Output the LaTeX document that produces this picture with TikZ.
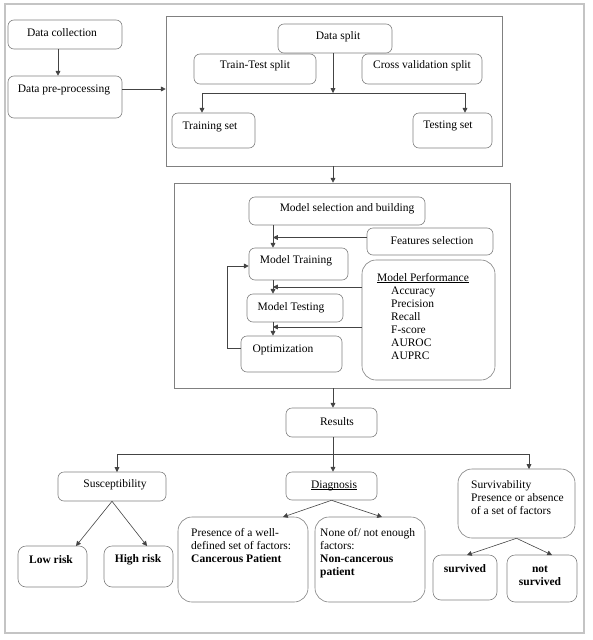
\documentclass[tikz,border=0pt]{standalone}
\usepackage{fontspec}
\setmainfont{Liberation Serif}
\usetikzlibrary{arrows.meta,fit}
\definecolor{boxgray}{HTML}{808080}
\definecolor{arrgray}{HTML}{444444}
\definecolor{framegray}{HTML}{C4C4C4}
\newcommand\myul[1]{\setbox0\hbox{#1}\rlap{\rule[-1.4pt]{\wd0}{0.5pt}}\box0}
\begin{document}
\begin{tikzpicture}[x=1pt,y=-1pt,
 box/.style={draw=boxgray, line width=0.6pt, rounded corners=6pt, inner sep=0pt},
 bigbox/.style={box, rounded corners=14pt},
 panel/.style={draw=boxgray, line width=0.6pt, inner sep=0pt},
 txt/.style={inner sep=0pt, font=\fontsize{11.5}{13}\selectfont},
 btxt/.style={inner sep=0pt, font=\fontsize{11.5}{13}\selectfont\bfseries},
 arr/.style={draw=arrgray, line width=0.6pt, -{Triangle[length=4.8pt,width=4.8pt]}},
]
\useasboundingbox (0,0) rectangle (593,640);
\node[draw=framegray, line width=1.6pt, inner sep=0pt, fit={(5,4)(584,633)}] (frame) {};

% boxes
\node[box, fit={(8,20)(122,49)}] (dc) {};
\node[box, fit={(8,76)(122,118)}] (dp) {};
\node[panel, fit={(166,16)(502,166)}] (b1) {};
\node[box, fit={(194,54)(316,84)}] (tt) {};
\node[box, fit={(362,54)(482,84)}] (cv) {};
\node[box, fit={(278,24)(392,53)}] (ds) {};
\node[box, fit={(172,113)(255,148)}] (trs) {};
\node[box, fit={(413,113)(492,148)}] (tes) {};
\node[panel, fit={(174,183)(510,388)}] (b2) {};
\node[box, fit={(249,197)(425,225)}] (msb) {};
\node[box, fit={(367,228)(493,255)}] (fs) {};
\node[box, fit={(249,248)(348,280)}] (mt) {};
\node[box, fit={(247,294)(343,322)}] (mte) {};
\node[box, fit={(241,336)(342,372)}] (opt) {};
\node[bigbox, fit={(362,260)(495,380)}] (mp) {};
\node[box, fit={(286,408)(377,437)}] (res) {};
\node[box, fit={(58,472)(166,501)}] (susc) {};
\node[box, fit={(286,472)(377,500)}] (diag) {};
\node[bigbox, fit={(458,469)(575,538)}] (surv) {};
\node[box, rounded corners=8pt, fit={(18,546)(87,587)}] (low) {};
\node[box, rounded corners=8pt, fit={(104,546)(173,587)}] (high) {};
\node[bigbox, fit={(178,517)(308,602)}] (pres) {};
\node[bigbox, fit={(315,517)(425,602)}] (none) {};
\node[box, rounded corners=8pt, fit={(433,555)(497,600)}] (sd) {};
\node[box, rounded corners=8pt, fit={(507,555)(577,602)}] (ns) {};

% helper coordinates
\coordinate (c58) at (58,0);
\coordinate (cx) at (333,0);
\coordinate (c202) at (202,0);
\coordinate (c465) at (465,0);
\coordinate (c273) at (273,0);
\coordinate (split) at (333,93);
\coordinate (p1) at (0,287);
\coordinate (p2) at (0,327);
\coordinate (j2) at (333,454);
\coordinate (sT) at (117,472);
\coordinate (vT) at (529,469);
\coordinate (lowT) at (76,546);
\coordinate (highT) at (147,546);
\coordinate (presT) at (283,517);
\coordinate (noneT) at (382,517);
\coordinate (sdT) at (467,555);
\coordinate (nsT) at (552,555);

% connectors
\draw[arr] (dc.south -| c58) -- (dp.north -| c58);
\draw[arr] ([yshift=8pt]dp.east) -- ([yshift=8pt]dp.east -| b1.west);
\draw[arr] (ds.south -| cx) -- (split);
\draw[arr] (split) -| (trs.north -| c202);
\draw[arr] (split) -| (tes.north -| c465);
\draw[arr] (b1.south -| cx) -- (b2.north -| cx);
\draw[arr] (msb.south -| c273) -- (mt.north -| c273);
\draw[arr] ([yshift=4pt]fs.west) -- ([yshift=4pt]fs.west -| c273);
\draw[arr] (mt.south -| c273) -- (mte.north -| c273);
\draw[arr] (mte.south -| c273) -- (opt.north -| c273);
\draw[arr] (mp.west |- p1) -- (p1 -| c273);
\draw[arr] (mp.west |- p2) -- (p2 -| c273);
\draw[arr] ([yshift=6pt]opt.west) -- ++(-13,0) |- ([yshift=-2pt]mt.west);
\draw[arr] (b2.south -| cx) -- (res.north -| cx);
\draw[arr] (res.south -| cx) -- (diag.north -| cx);
\draw[arr] (j2) -| (sT);
\draw[arr] (j2) -| (vT);
\draw[arr] (susc.south) -- (lowT);
\draw[arr] (susc.south) -- (highT);
\draw[arr] (diag.south) -- (presT);
\draw[arr] (diag.south) -- (noneT);
\draw[arr] (surv.south) -- (sdT);
\draw[arr] (surv.south) -- (nsT);

% texts
\node[txt] (tdc) at (62,33) {Data collection};
\node[txt] (tdp) at (64,90) {Data pre-processing};
\node[txt] (tds) at (338,37) {Data split};
\node[txt] (ttt) at (255,66) {Train-Test split};
\node[txt] (tcv) at (422,66) {Cross validation split};
\node[txt] (ttrs) at (210,127) {Training set};
\node[txt] (ttes) at (448,126) {Testing set};
\node[txt] (tmsb) at (347,209) {Model selection and building};
\node[txt] (tfs) at (432,241) {Features selection};
\node[txt] (tmt) at (296,261) {Model Training};
\node[txt] (tmte) at (291,308) {Model Testing};
\node[txt] (topt) at (283,350) {Optimization};
\node[txt, anchor=base west] (tmp0) at (377,281) {\myul{Model Performance}};
\node[txt, anchor=base west] (tmp1) at (391,294) {Accuracy};
\node[txt, anchor=base west] (tmp2) at (391,307) {Precision};
\node[txt, anchor=base west] (tmp3) at (391,320) {Recall};
\node[txt, anchor=base west] (tmp4) at (391,333) {F-score};
\node[txt, anchor=base west] (tmp5) at (391,346) {AUROC};
\node[txt, anchor=base west] (tmp6) at (391,359) {AUPRC};
\node[txt] (tres) at (337,422) {Results};
\node[txt, anchor=base] (tdiag) at (334,488) {\myul{Diagnosis}};
\node[txt] (tsusc) at (115,485) {Susceptibility};
\node[btxt] (tlow) at (51,560) {Low risk};
\node[btxt] (thigh) at (138,560) {High risk};
\node[txt, anchor=base west] (tpr1) at (191,536) {Presence of a well-};
\node[txt, anchor=base west] (tpr2) at (191,549) {defined set of factors:};
\node[btxt, anchor=base west] (tpr3) at (191,562) {Cancerous Patient};
\node[txt, anchor=base west] (tno1) at (320,536) {None of/ not enough};
\node[txt, anchor=base west] (tno2) at (320,549) {factors:};
\node[btxt, anchor=base west] (tno3) at (320,562) {Non-cancerous};
\node[btxt, anchor=base west] (tno4) at (320,575) {patient};
\node[txt, anchor=base west] (tsv1) at (471,488) {Survivability};
\node[txt, anchor=base west] (tsv2) at (471,501) {Presence or absence};
\node[txt, anchor=base west] (tsv3) at (471,514) {of a set of factors};
\node[btxt] (tsd) at (465,569) {survived};
\node[btxt] (tns1) at (540,569) {not};
\node[btxt] (tns2) at (540,582) {survived};
\end{tikzpicture}
\end{document}
